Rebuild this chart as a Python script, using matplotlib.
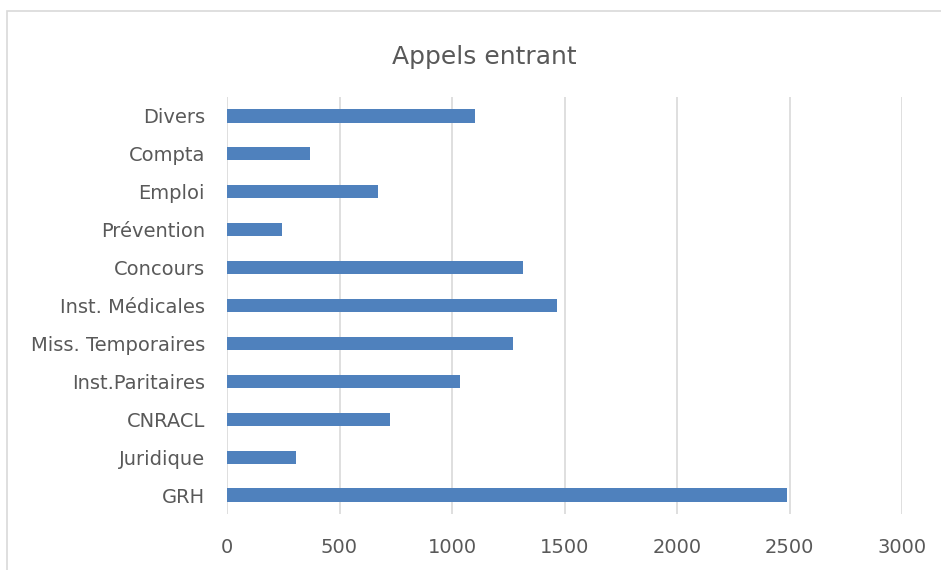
import matplotlib.pyplot as plt
from matplotlib.patches import Rectangle

categories = ["GRH", "Juridique", "CNRACL", "Inst.Paritaires", "Miss. Temporaires",
              "Inst. Médicales", "Concours", "Prévention", "Emploi", "Compta", "Divers"]
values = [2490, 307, 724, 1037, 1273, 1465, 1317, 244, 673, 368, 1100]
xticks = [0, 500, 1000, 1500, 2000, 2500, 3000]

plt.rcParams['font.family'] = ['DejaVu Sans']

fig = plt.figure(figsize=(9.41, 5.70), dpi=100)
fig.patches.append(Rectangle((7 / 941, -0.01), 1.0, 1 - 11 / 570 + 0.01,
                             transform=fig.transFigure, fill=False,
                             edgecolor='#d9d9d9', linewidth=1.2))

ax = fig.add_axes([227 / 941, 1 - 514 / 570, (902 - 227) / 941, (514 - 97) / 570])
ax.barh(range(len(categories)), values, height=0.35, color='#4f81bd', zorder=3)
ax.set_yticks(range(len(categories)))
ax.set_yticklabels(categories)
ax.set_ylim(-0.5, len(categories) - 0.5)
ax.set_xlim(0, 3000)
ax.set_xticks(xticks)
ax.grid(axis='x', color='#d9d9d9', linewidth=1.2, zorder=0)
for s in ax.spines.values():
    s.set_visible(False)
ax.tick_params(axis='both', length=0, colors='#595959', labelsize=14)
ax.tick_params(axis='y', pad=16)
ax.tick_params(axis='x', pad=17)
fig.text(484 / 941, 1 - 57 / 570, "Appels entrant", fontsize=18, color='#595959',
         ha='center', va='center')

fig.savefig("out.png", dpi=100)
